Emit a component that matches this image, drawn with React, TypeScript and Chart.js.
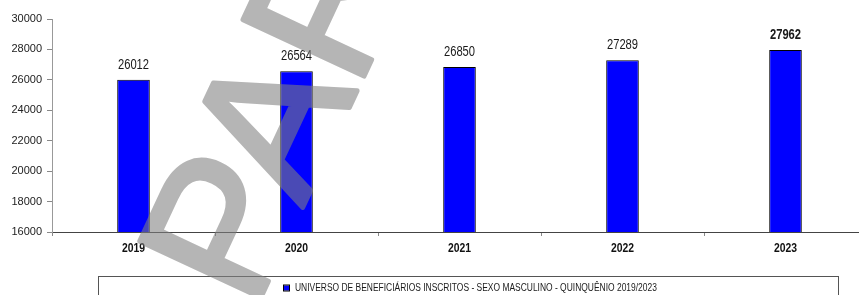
import React, { useEffect, useRef } from "react";
import { Chart, registerables } from "chart.js";

Chart.register(...registerables);

const categories: string[] = ["2019", "2020", "2021", "2022", "2023"];
const values: number[] = [26012, 26564, 26850, 27289, 27962];
const seriesLabel = "UNIVERSO DE BENEFICIÁRIOS INSCRITOS - SEXO MASCULINO - QUINQUÊNIO 2019/2023";
const yMin = 16000;
const yMax = 30000;
const yStep = 2000;
const highlightIndex = 4;
const watermarkText = "PARCIAL";

const SANS = "'Liberation Sans', Arial, sans-serif";

const W = 872;
const H = 295;

function drawNarrow(ctx: any, text: string, x: number, y: number, sx: number) {
  ctx.save();
  ctx.translate(x, y);
  ctx.scale(sx, 1);
  ctx.fillText(text, 0, 0);
  ctx.restore();
}

const dataLabelPlugin = {
  id: "dataLabels",
  afterDatasetsDraw(chart: any) {
    const ctx = chart.ctx;
    const meta = chart.getDatasetMeta(0);
    ctx.save();
    ctx.textAlign = "center";
    ctx.textBaseline = "alphabetic";
    ctx.fillStyle = "#1a1a1a";
    meta.data.forEach((bar: any, i: number) => {
      ctx.font = (i === highlightIndex ? "bold " : "") + "14px " + SANS;
      drawNarrow(ctx, String(values[i]), bar.x, bar.y - 11, 0.8);
    });
    // x category labels
    const xs = chart.scales.x;
    ctx.font = "bold 13px " + SANS;
    ctx.textBaseline = "middle";
    ctx.fillStyle = "#111";
    categories.forEach((c, i) => {
      drawNarrow(ctx, c, xs.getPixelForValue(i), chart.chartArea.bottom + 16, 0.8);
    });
    ctx.restore();
  },
};

const legendPlugin = {
  id: "boxLegend",
  afterDraw(chart: any) {
    const ctx = chart.ctx;
    const ca = chart.chartArea;
    const top = ca.bottom + 44;
    ctx.save();
    ctx.strokeStyle = "#555";
    ctx.lineWidth = 1;
    ctx.strokeRect(98.5, top + 0.5, 740, 40);
    ctx.font = "10px " + SANS;
    const sx = 0.845;
    const tw = ctx.measureText(seriesLabel).width * sx;
    const textX = 295;
    const ty = top + 12;
    ctx.fillStyle = "#0000ff";
    ctx.fillRect(textX - 11, ty - 2.5, 5, 5);
    ctx.strokeStyle = "#000";
    ctx.strokeRect(textX - 11.5, ty - 3, 6, 6);
    ctx.fillStyle = "#1a1a1a";
    ctx.textBaseline = "middle";
    ctx.textAlign = "left";
    drawNarrow(ctx, seriesLabel, textX, ty + 0.5, sx);
    void tw;
    ctx.restore();
  },
};

const watermarkPlugin = {
  id: "watermark",
  afterDraw(chart: any) {
    const ctx = chart.ctx;
    const off = document.createElement("canvas");
    off.width = chart.width;
    off.height = chart.height;
    const o = off.getContext("2d") as CanvasRenderingContext2D;
    o.translate(254, 312);
    o.rotate((-65 * Math.PI) / 180);
    o.font = "194px " + SANS;
    o.fillStyle = "rgb(128,128,128)";
    o.strokeStyle = "rgb(128,128,128)";
    o.lineWidth = 5;
    o.lineJoin = "round";
    o.textBaseline = "alphabetic";
    o.textAlign = "left";
    o.fillText(watermarkText, 0, 0);
    o.strokeText(watermarkText, 0, 0);
    ctx.save();
    ctx.globalAlpha = 0.58;
    ctx.drawImage(off, 0, 0);
    ctx.restore();
  },
};

export default function App() {
  const ref = useRef<HTMLCanvasElement | null>(null);
  useEffect(() => {
    document.body.style.overflow = "hidden";
    const canvas = ref.current;
    if (!canvas) return;
    const chart = new Chart(canvas, {
      type: "bar",
      data: {
        labels: categories,
        datasets: [
          {
            label: seriesLabel,
            data: values,
            backgroundColor: "#0000ff",
            borderColor: "#000000",
            borderWidth: 1,
            borderSkipped: false,
            barPercentage: 0.2,
            categoryPercentage: 1,
          },
        ],
      },
      options: {
        responsive: false,
        animation: false,
        layout: { padding: { top: 19, right: 5, bottom: 28, left: 0 } },
        plugins: {
          legend: { display: false },
          tooltip: { enabled: false },
        },
        scales: {
          x: {
            offset: true,
            grid: {
              offset: true,
              drawOnChartArea: false,
              drawTicks: true,
              tickLength: 4,
              color: "#888",
            },
            border: { color: "#444", width: 1 },
            ticks: { display: false },
            afterFit(scale: any) {
              scale.height = 35;
            },
          },
          y: {
            min: yMin,
            max: yMax,
            grid: {
              drawOnChartArea: false,
              drawTicks: true,
              tickLength: 5,
              color: "#888",
            },
            border: { color: "#999", width: 1 },
            ticks: {
              stepSize: yStep,
              color: "#222",
              font: { family: SANS, size: 11 },
              padding: 5,
              callback: (v: any) => String(v),
            },
            afterFit(scale: any) {
              scale.width = 52;
            },
          },
        },
      },
      plugins: [dataLabelPlugin, legendPlugin, watermarkPlugin],
    });
    return () => chart.destroy();
  }, []);
  return (
    <div style={{ position: "fixed", left: 0, top: 0, width: W, height: H, background: "#fff" }}>
      <canvas ref={ref} width={W} height={H} style={{ width: W, height: H, display: "block" }} />
    </div>
  );
}
